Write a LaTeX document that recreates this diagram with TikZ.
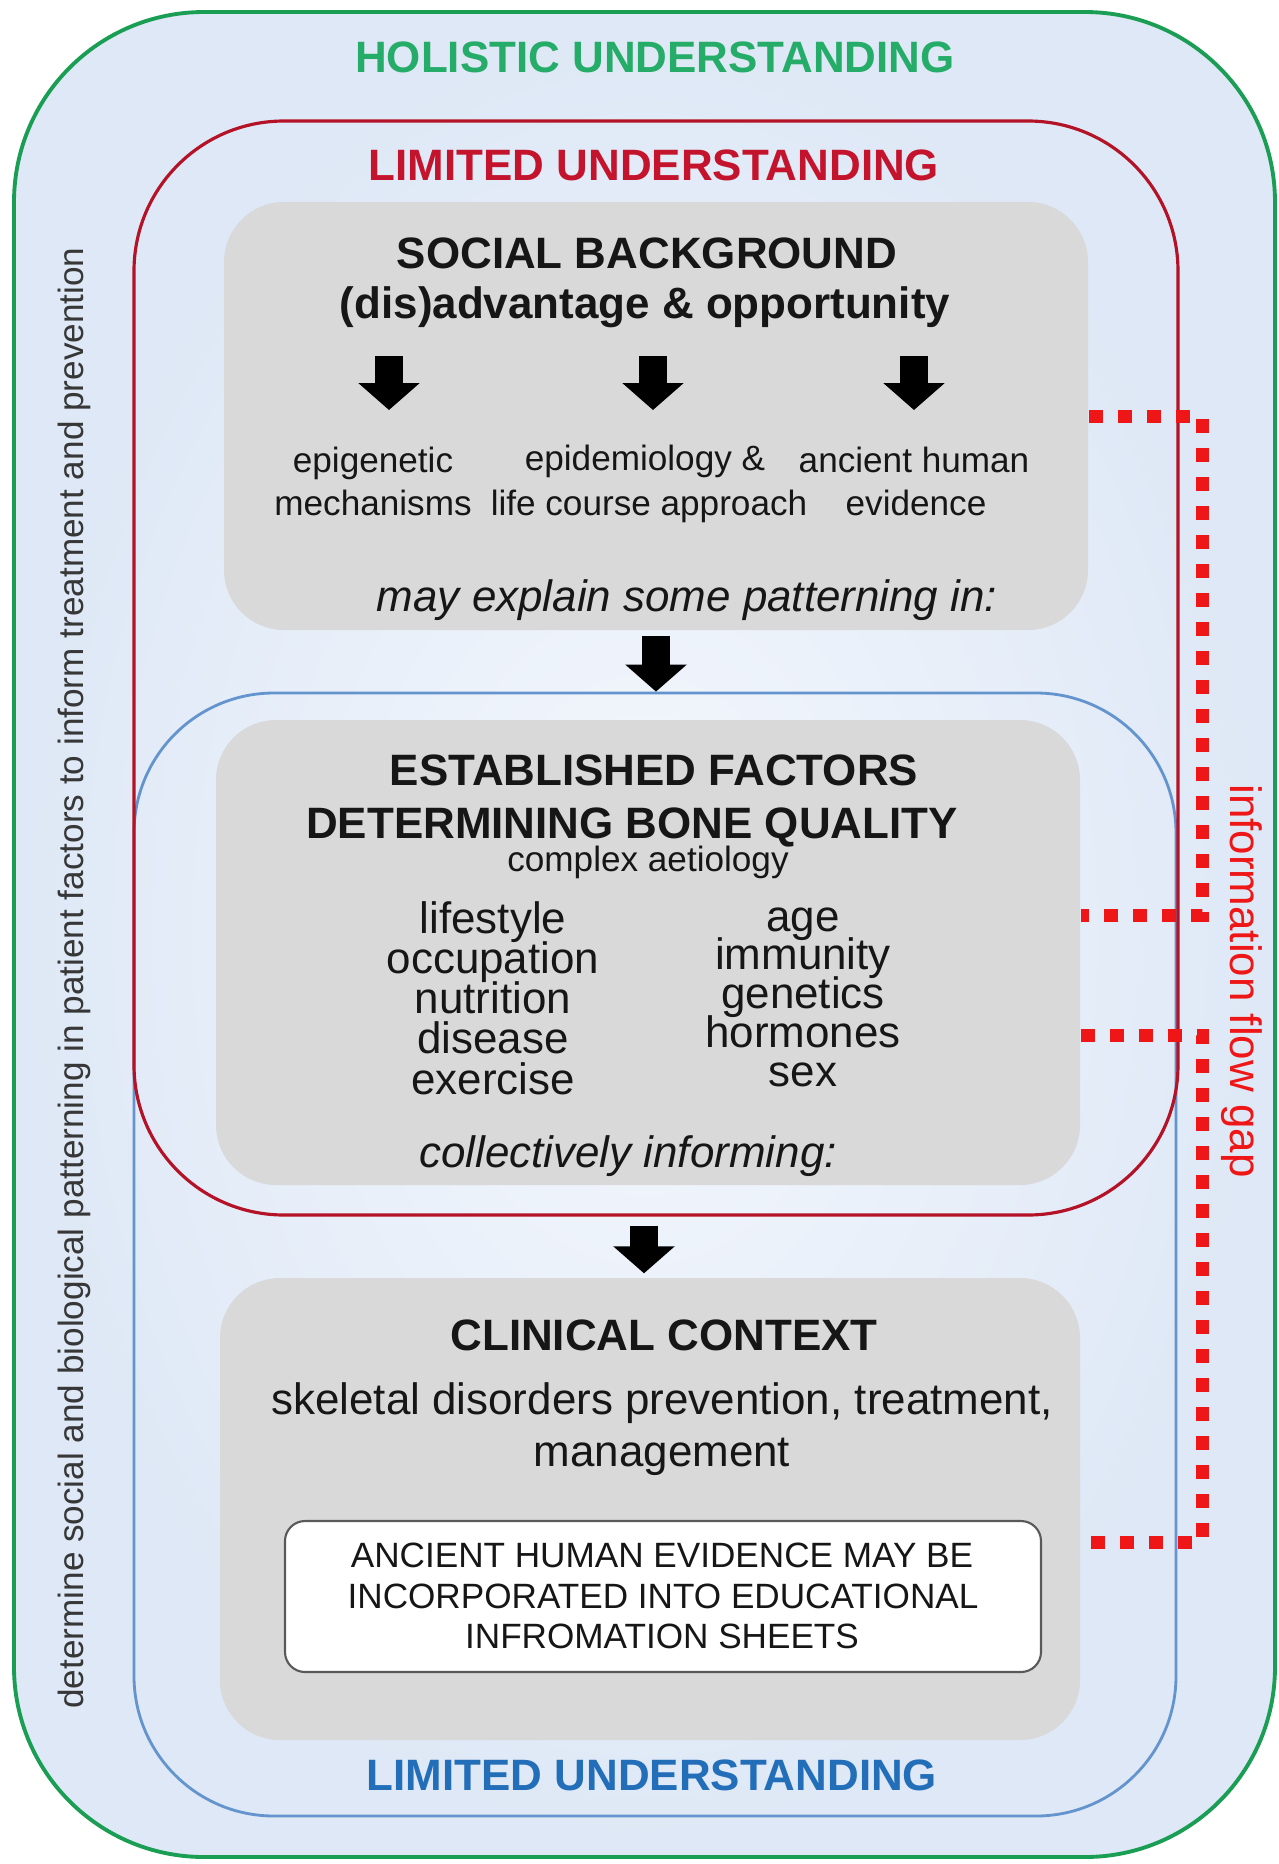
\documentclass[tikz,border=0pt]{standalone}
\usepackage{fontspec}
\setmainfont{Liberation Sans}
\usetikzlibrary{arrows.meta}

\definecolor{holigreen}{RGB}{26,158,84}
\definecolor{holitext}{RGB}{36,172,104}
\definecolor{limred}{RGB}{180,18,38}
\definecolor{limredtext}{RGB}{196,20,45}
\definecolor{limblue}{RGB}{100,148,205}
\definecolor{limbluetext}{RGB}{35,110,185}
\definecolor{gapred}{RGB}{238,22,22}
\definecolor{boxgrey}{RGB}{217,217,217}
\definecolor{bgin}{RGB}{245,248,253}
\definecolor{bgout}{RGB}{222,232,246}
\definecolor{inkdark}{RGB}{22,22,22}
\definecolor{sidegrey}{RGB}{55,55,55}

\tikzset{
	headtext/.style={font=\fontsize{12.5}{15}\selectfont\bfseries, text=inkdark, anchor=base, inner sep=0pt},
	bodytext/.style={font=\fontsize{12.5}{15}\selectfont, text=inkdark, anchor=base, inner sep=0pt},
	slanttext/.style={font=\fontsize{12.5}{15}\selectfont\itshape, text=inkdark, anchor=base, inner sep=0pt},
	smalltext/.style={font=\fontsize{10}{12}\selectfont, text=inkdark, anchor=base, inner sep=0pt},
	greybox/.style={fill=boxgrey, rounded corners=0.6cm, inner sep=0pt},
	bigarrow/.style={line width=2.8mm, -{Triangle[width=6mm,length=2.7mm]}},
	gapline/.style={draw=gapred, line width=1.3mm, dash pattern=on 1.4mm off 1.5mm},
}

\begin{document}
\begin{tikzpicture}
	\useasboundingbox (0,0) rectangle (12.78,-18.64);
	% frames
	\node[draw=holigreen, line width=1.1pt, rounded corners=1.9cm, inner color=bgin, outer color=bgout, minimum width=12.61cm, minimum height=18.45cm, inner sep=0pt] (holistic) at (6.445,-9.345) {};
	\node[draw=limblue, line width=0.8pt, rounded corners=1.4cm, minimum width=10.42cm, minimum height=11.23cm, inner sep=0pt] (bluebox) at (6.55,-12.545) {};
	\node[draw=limred, line width=0.9pt, rounded corners=1.5cm, minimum width=10.44cm, minimum height=10.94cm, inner sep=0pt] (redbox) at (6.56,-6.68) {};
	% grey boxes
	\node[greybox, minimum width=8.64cm, minimum height=4.28cm] (social) at (6.56,-4.16) {};
	\node[greybox, minimum width=8.64cm, minimum height=4.65cm] (factors) at (6.48,-9.525) {};
	\node[greybox, minimum width=8.60cm, minimum height=4.62cm] (clinical) at (6.50,-15.09) {};
	\node[draw=gray!70!black, fill=white, rounded corners=0.2cm, line width=0.6pt, minimum width=7.56cm, minimum height=1.51cm, inner sep=0pt] (sheets) at (6.63,-15.965) {};

	% titles
	\node[headtext, text=holitext] (holititle) at (6.55,-0.72) {HOLISTIC UNDERSTANDING};
	\node[headtext, text=limredtext] (redtitle) at (6.54,-1.80) {LIMITED UNDERSTANDING};
	\node[headtext, text=limbluetext] (bluetitle) at (6.52,-17.90) {LIMITED UNDERSTANDING};

	% social background
	\node[headtext] (socialtitle) at (6.47,-2.68) {SOCIAL BACKGROUND};
	\node[headtext] (socialsub) at (6.45,-3.18) {(dis)advantage \& opportunity};
	\foreach \x [count=\i] in {3.89,6.53,9.14} {
		\coordinate (top\i) at (\x,-3.56);
		\coordinate (tip\i) at (\x,-4.10);
		\draw[bigarrow] (top\i) -- (tip\i);
	}
	\node[smalltext] (epi1) at (3.73,-4.72) {epigenetic};
	\node[smalltext] (epi2) at (3.73,-5.15) {mechanisms};
	\node[smalltext] (epid1) at (6.45,-4.70) {epidemiology \&};
	\node[smalltext] (epid2) at (6.49,-5.15) {life course approach};
	\node[smalltext] (anc1) at (9.14,-4.72) {ancient human};
	\node[smalltext] (anc2) at (9.16,-5.15) {evidence};
	\node[slanttext] (explain) at (6.87,-6.11) {may explain some patterning in:};
	\draw[bigarrow] ([yshift=-0.05cm]social.south) -- (social.south |- bluebox.north);

	% established factors
	\node[headtext] (estab1) at (6.54,-7.85) {ESTABLISHED FACTORS};
	\node[headtext] (estab2) at (6.32,-8.38) {DETERMINING BONE QUALITY};
	\node[smalltext] (aetiology) at (6.48,-8.71) {complex aetiology};
	\foreach \w [count=\i] in {lifestyle,occupation,nutrition,disease,exercise}
		\node[bodytext] (life\i) at (4.93,{-9.33-0.4025*(\i-1)}) {\w};
	\foreach \w [count=\i] in {age,immunity,genetics,hormones,sex}
		\node[bodytext] (bio\i) at (8.03,{-9.31-0.3875*(\i-1)}) {\w};
	\node[slanttext] (inform) at (6.28,-11.67) {collectively informing:};
	\draw[bigarrow] ([xshift=-0.12cm,yshift=-0.09cm]redbox.south) -- ([xshift=-0.06cm,yshift=0.04cm]clinical.north);

	% clinical context
	\node[headtext] (clintitle) at (6.64,-13.50) {CLINICAL CONTEXT};
	\node[bodytext] (clin1) at (6.62,-14.14) {skeletal disorders prevention, treatment,};
	\node[bodytext] (clin2) at (6.62,-14.66) {management};
	\node[smalltext] (sheet1) at (6.62,-15.67) {ANCIENT HUMAN EVIDENCE MAY BE};
	\node[smalltext] (sheet2) at (6.63,-16.08) {INCORPORATED INTO EDUCATIONAL};
	\node[smalltext] (sheet3) at (6.62,-16.48) {INFROMATION SHEETS};

	% side labels
	\node[smalltext, anchor=center, rotate=90, text=sidegrey] (patterning) at (0.74,-9.78) {determine social and biological patterning in patient factors to inform treatment and prevention};
	\node[bodytext, anchor=center, rotate=-90, text=gapred] (gaplabel) at (12.42,-9.81) {information flow gap};

	% information flow gap
	\coordinate (g1) at (12.02,-4.16);
	\coordinate (g2) at (12.02,-9.15);
	\coordinate (g3) at (12.02,-10.35);
	\coordinate (g4) at (12.02,-15.42);
	\draw[gapline] (social.east) -- (g1) -- (g2) -- (g2 -| factors.east);
	\draw[gapline] (g3 -| factors.east) -- (g3) -- (g4) -- (g4 -| clinical.east);
\end{tikzpicture}
\end{document}
